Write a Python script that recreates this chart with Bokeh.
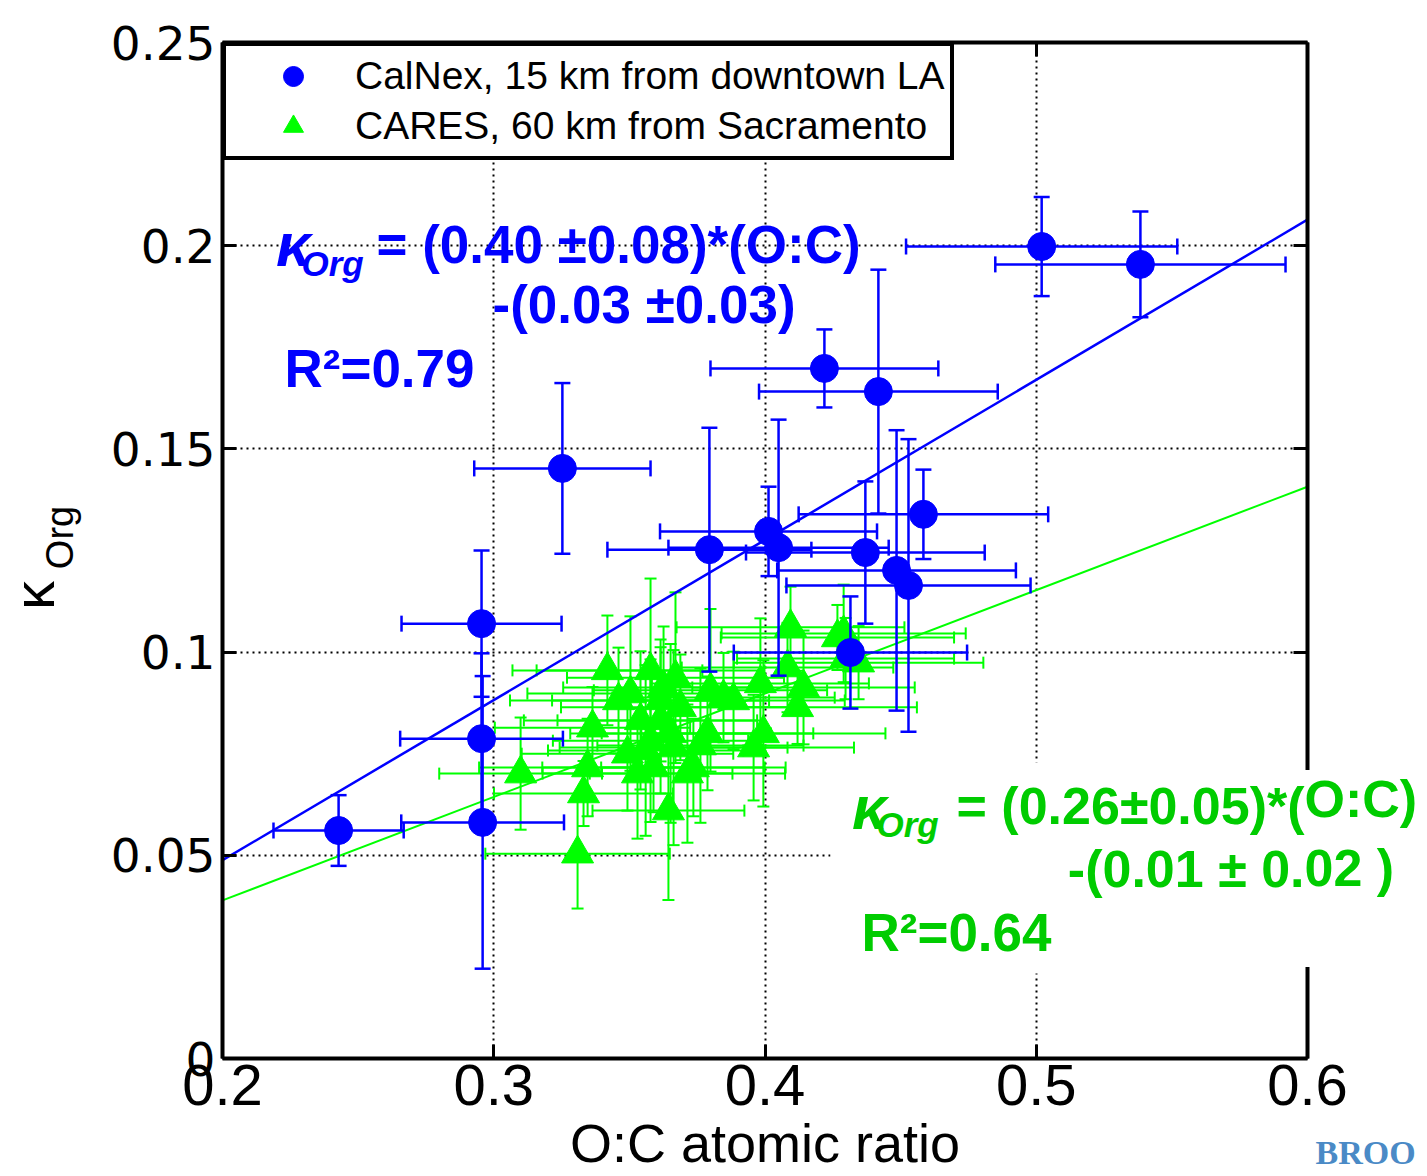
import math
from bokeh.plotting import figure
from bokeh.models import (ColumnDataSource, Label, Legend, LegendItem, FixedTicker,
                          LinearAxis, BoxAnnotation)
from bokeh.embed import file_html
from bokeh.resources import INLINE

# ---------------- data ----------------
calnex_oc = [0.2428, 0.2955, 0.2955, 0.2959, 0.3253, 0.3795, 0.4013, 0.4050, 0.4370,
             0.4584, 0.4485, 0.4529, 0.4315, 0.4219, 0.4418, 0.5020, 0.5384]
calnex_kappa = [0.0561, 0.1070, 0.0787, 0.0581, 0.1452, 0.1252, 0.1297, 0.1257, 0.1245,
                0.1339, 0.1201, 0.1164, 0.0999, 0.1698, 0.1641, 0.1998, 0.1954]
calnex_oc_err = [0.024, 0.0295, 0.030, 0.030, 0.0325, 0.0376, 0.040, 0.0406, 0.044,
                 0.046, 0.044, 0.045, 0.043, 0.042, 0.044, 0.050, 0.0535]
calnex_kappa_err = [0.0087, 0.018, 0.021, 0.036, 0.021, 0.030, 0.011, 0.0315, 0.0175,
                    0.011, 0.0345, 0.036, 0.0138, 0.0096, 0.030, 0.0122, 0.013]

cares_oc = [0.3419, 0.3099, 0.3331, 0.3309, 0.3644, 0.3364, 0.3346, 0.3504, 0.3578, 0.3670,
            0.3626, 0.3530, 0.3589, 0.3714, 0.3788, 0.3799, 0.3884, 0.3958, 0.3994, 0.3983,
            0.4094, 0.4120, 0.4142, 0.4083, 0.4267, 0.4290, 0.4297, 0.4345, 0.3615, 0.3663,
            0.3578, 0.3493, 0.3688, 0.3615, 0.3652, 0.3847, 0.3736, 0.3541, 0.3762, 0.3460,
            0.3560]
cares_kappa = [0.0955, 0.0701, 0.0652, 0.0504, 0.0610, 0.0814, 0.0716, 0.0898, 0.0955, 0.0937,
               0.0913, 0.0701, 0.0716, 0.0701, 0.0800, 0.0906, 0.0881, 0.0765, 0.0800, 0.0923,
               0.1061, 0.0864, 0.0913, 0.0962, 0.1036, 0.1046, 0.0984, 0.0974, 0.0832, 0.0765,
               0.0782, 0.0750, 0.0864, 0.0881, 0.0800, 0.0888, 0.0716, 0.0832, 0.0770, 0.0881,
               0.0758]
cares_oc_err = [0.035, 0.030, 0.033, 0.034, 0.028, 0.036, 0.040, 0.038, 0.042, 0.040,
                0.037, 0.035, 0.041, 0.036, 0.039, 0.043, 0.041, 0.037, 0.045, 0.040,
                0.042, 0.044, 0.041, 0.039, 0.043, 0.045, 0.040, 0.046, 0.038, 0.042,
                0.036, 0.039, 0.044, 0.040, 0.037, 0.041, 0.034, 0.043, 0.038, 0.040,
                0.036]
cares_kappa_err = [0.0135, 0.0138, 0.008, 0.0135, 0.022, 0.010, 0.012, 0.019, 0.0226, 0.021,
                   0.015, 0.016, 0.011, 0.017, 0.014, 0.020, 0.012, 0.013, 0.018, 0.016,
                   0.010, 0.009, 0.014, 0.011, 0.008, 0.012, 0.010, 0.009, 0.018, 0.024,
                   0.020, 0.014, 0.013, 0.015, 0.022, 0.011, 0.012, 0.017, 0.019, 0.013,
                   0.021]

fit_names = ["CalNex", "CARES"]
fit_slope = [0.394, 0.2545]
fit_intercept = [-0.030, -0.012]

series_labels = ["CalNex, 15 km from downtown LA", "CARES, 60 km from Sacramento"]

x_ticks = [0.2, 0.3, 0.4, 0.5, 0.6]
x_tick_labels = ["0.2", "0.3", "0.4", "0.5", "0.6"]
y_ticks = [0, 0.05, 0.1, 0.15, 0.2, 0.25]
y_tick_labels = ["0", "0.05", "0.1", "0.15", "0.2", "0.25"]
# right-side ticks: the 0.05 one is hidden behind the white equation box
y_ticks_right = [0, 0.1, 0.15, 0.2, 0.25]

BLUE = "#0000ff"
GREEN = "#00ff00"
GREEN_TXT = "#00cc00"

# ---------------- figure ----------------
p = figure(width=1427, height=1176, x_range=(x_ticks[0], x_ticks[-1]),
           y_range=(y_ticks[0], y_ticks[-1]),
           output_backend="svg", toolbar_location=None,
           min_border_left=222, min_border_right=120, min_border_top=42, min_border_bottom=118)
p.outline_line_color = None
p.background_fill_color = "white"
p.border_fill_color = "white"

bottom_axis = p.below[0]
left_axis = p.left[0]
right_axis = LinearAxis()
top_axis = LinearAxis()
p.add_layout(right_axis, "right")
p.add_layout(top_axis, "above")


def style_axis(ax, ticks, labels, show, font, size):
    ax.ticker = FixedTicker(ticks=ticks)
    ax.major_label_overrides = {t: (l if show else "") for t, l in zip(ticks, labels)}
    ax.axis_line_width = 4
    ax.axis_line_color = "black"
    ax.major_tick_in = 14
    ax.major_tick_out = 0
    ax.major_tick_line_width = 3
    ax.major_tick_line_color = "black"
    ax.minor_tick_line_color = None
    ax.major_label_text_font = font
    ax.major_label_text_font_size = size
    ax.major_label_text_color = "black"


style_axis(bottom_axis, x_ticks, x_tick_labels, True, "Liberation Sans", "58px")
bottom_axis.major_label_standoff = 6
bottom_axis.axis_label = "O:C atomic ratio"
bottom_axis.axis_label_text_font = "Liberation Sans"
bottom_axis.axis_label_text_font_size = "54px"
bottom_axis.axis_label_text_font_style = "normal"
bottom_axis.axis_label_text_color = "black"
bottom_axis.axis_label_standoff = 5

style_axis(left_axis, y_ticks, y_tick_labels, True, "DejaVu Sans", "47px")
left_axis.major_label_standoff = 7
style_axis(right_axis, y_ticks_right, ["" for _ in y_ticks_right], False, "DejaVu Sans", "1px")
style_axis(top_axis, x_ticks, x_tick_labels, False, "DejaVu Sans", "1px")
right_axis.major_label_standoff = 0
top_axis.major_label_standoff = 0

for g in (p.xgrid[0], p.ygrid[0]):
    g.grid_line_color = "black"
    g.grid_line_dash = "2 4"
    g.grid_line_width = 2
p.xgrid[0].ticker = FixedTicker(ticks=x_ticks)
p.ygrid[0].ticker = FixedTicker(ticks=y_ticks)

# white box behind green equation (covers grid lines)
p.add_layout(BoxAnnotation(left=830, right=1427, top=762, bottom=973,
                           left_units="canvas", right_units="canvas",
                           top_units="canvas", bottom_units="canvas",
                           fill_color="white", fill_alpha=1.0, line_color=None,
                           level="underlay"))


def make_source(xs, ys, xe, ye):
    return ColumnDataSource(dict(
        x=xs, y=ys,
        xl=[a - e for a, e in zip(xs, xe)], xu=[a + e for a, e in zip(xs, xe)],
        yl=[a - e for a, e in zip(ys, ye)], yu=[a + e for a, e in zip(ys, ye)]))


def error_bars(src, color, cap, lw):
    p.segment(x0="x", y0="yl", x1="x", y1="yu", source=src, line_color=color, line_width=lw)
    p.segment(x0="xl", y0="y", x1="xu", y1="y", source=src, line_color=color, line_width=lw)
    p.scatter(x="x", y="yl", source=src, marker="dash", size=cap, line_color=color, line_width=lw)
    p.scatter(x="x", y="yu", source=src, marker="dash", size=cap, line_color=color, line_width=lw)
    p.scatter(x="xl", y="y", source=src, marker="dash", size=cap, angle=math.pi / 2,
              line_color=color, line_width=lw)
    p.scatter(x="xu", y="y", source=src, marker="dash", size=cap, angle=math.pi / 2,
              line_color=color, line_width=lw)


src_cares = make_source(cares_oc, cares_kappa, cares_oc_err, cares_kappa_err)
src_calnex = make_source(calnex_oc, calnex_kappa, calnex_oc_err, calnex_kappa_err)

# CARES (green)
error_bars(src_cares, GREEN, 12, 2)
r_green = p.scatter(x="x", y="y", source=src_cares, marker="triangle", size=32,
                    fill_color=GREEN, line_color=GREEN)

# fit lines
fit_x = [x_ticks[0], x_ticks[-1]]
p.line(fit_x, [fit_slope[1] * v + fit_intercept[1] for v in fit_x], line_color=GREEN, line_width=2)
p.line(fit_x, [fit_slope[0] * v + fit_intercept[0] for v in fit_x], line_color=BLUE, line_width=2.5)

# CalNex (blue)
error_bars(src_calnex, BLUE, 16, 2.5)
r_blue = p.scatter(x="x", y="y", source=src_calnex, marker="circle", size=28,
                   fill_color=BLUE, line_color=BLUE)

# legend
legend = Legend(items=[LegendItem(label=series_labels[0], renderers=[r_blue]),
                       LegendItem(label=series_labels[1], renderers=[r_green])],
                location="top_left", margin=0, padding=5, spacing=0,
                label_height=50, glyph_height=50, glyph_width=124, label_standoff=0,
                label_text_font="Liberation Sans", label_text_font_size="39px",
                label_text_color="black",
                border_line_color="black", border_line_width=4, border_line_alpha=1.0,
                background_fill_color="white", background_fill_alpha=1.0)
p.add_layout(legend)


def lab(x, y, text, color, size, style="bold", align="left", angle=0.0,
        font="Liberation Sans", panel=None, bg=None):
    label = Label(x=x, y=y, x_units="canvas", y_units="canvas", text=text,
                  text_color=color, text_font=font,
                  text_font_size=size, text_font_style=style, text_align=align,
                  text_baseline="middle", angle=angle)
    if bg is not None:
        label.background_fill_color = bg
        label.background_fill_alpha = 1.0
    if panel is None:
        p.add_layout(label)
    else:
        p.add_layout(label, panel)


# blue equation
lab(293, 244, "κ", BLUE, "62px", "bold italic", "center")
lab(301, 263, "Org", BLUE, "35px", "bold italic")
lab(376, 244, "= (0.40 ±0.08)*(O:C)", BLUE, "53px")
lab(492, 304, "-(0.03 ±0.03)", BLUE, "53px")
lab(284, 368, "R²=0.79", BLUE, "53px")

# green equation (the part that runs past the right spine sits in the right panel)
SPLIT_X = 1304
lab(869, 807, "κ", GREEN_TXT, "62px", "bold italic", "center")
lab(876, 824, "Org", GREEN_TXT, "35px", "bold italic")
lab(SPLIT_X, 805, "= (0.26±0.05)*(", GREEN_TXT, "52px", align="right")
lab(SPLIT_X, 868, "-(0.01 ± 0.", GREEN_TXT, "52px", align="right")
lab(SPLIT_X, 868, "O:C)\n02 )\n ", GREEN_TXT, "52px", align="left", panel="right", bg="white")
lab(861, 932, "R²=0.64", GREEN_TXT, "53px")

# y-axis title (kappa with subscript)
lab(33, 595, "κ", "black", "58px", "normal", "center", math.pi / 2, panel="left")
lab(59, 537, "Org", "black", "38px", "normal", "center", math.pi / 2, panel="left")

# logo fragment
lab(1315, 1152, "BROO", "#4a8ac6", "34px", "bold", "left", 0.0, "Liberation Serif", panel="above")

open("out.html", "w").write(file_html(p, INLINE))
